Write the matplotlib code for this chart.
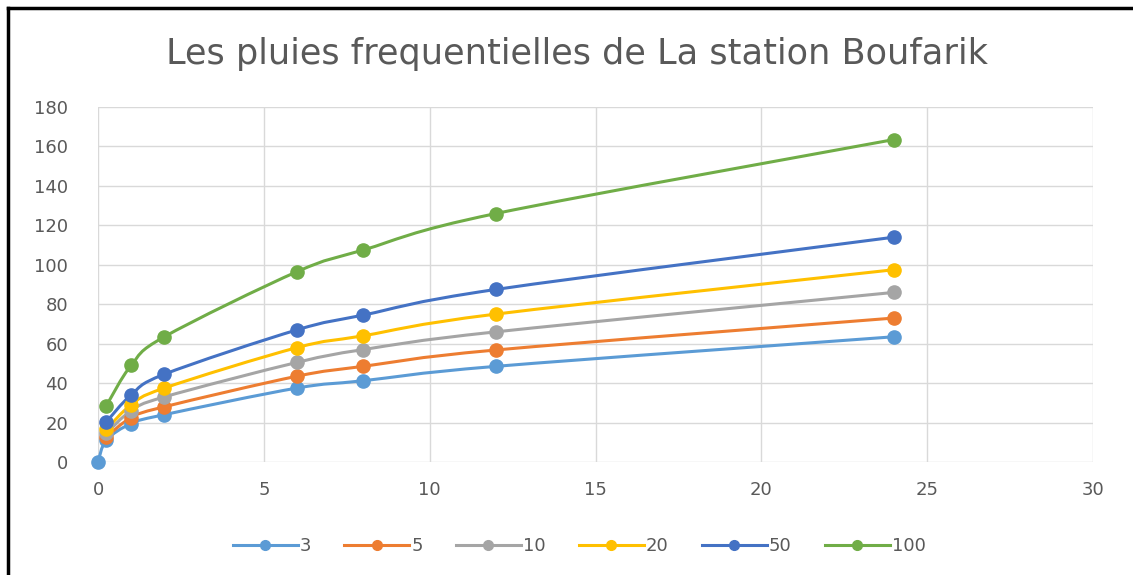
import matplotlib
matplotlib.use("Agg")
import matplotlib.pyplot as plt
from matplotlib.path import Path
from matplotlib.patches import PathPatch
from matplotlib.lines import Line2D
import numpy as np

plt.rcParams['font.family'] = ['DejaVu Sans']

durations = [0.25, 1, 2, 6, 8, 12, 24]
durations_3 = [0, 0.25, 1, 2, 6, 8, 12, 24]
s3 = [0, 11, 19.5, 24, 37.5, 41.2, 48.5, 63.5]
s5 = [12.7, 22.5, 28, 43.5, 48.5, 56.8, 73]
s10 = [14.5, 26, 33, 50.5, 57, 66, 86]
s20 = [16.5, 29, 37.5, 58, 64, 75, 97.5]
s50 = [20.3, 34, 44.5, 67, 74.5, 87.5, 114]
s100 = [28.5, 49, 63.5, 96.5, 107.5, 126, 163.5]
labels = ['3', '5', '10', '20', '50', '100']
colors = ['#5B9BD5', '#ED7D31', '#A5A5A5', '#FFC000', '#4472C4', '#70AD47']
title = 'Les pluies frequentielles de La station Boufarik'

series = [(durations_3, s3), (durations, s5), (durations, s10),
          (durations, s20), (durations, s50), (durations, s100)]

fig = plt.figure(figsize=(11.33, 5.75), dpi=100)
ax = fig.add_axes([98/1133, 1-462/575, 995/1133, 355/575])


def smooth_path(x, y):
    # Excel-like smoothed line: Catmull-Rom converted to cubic Bezier segments
    x = np.asarray(x, float); y = np.asarray(y, float)
    n = len(x)
    verts = [(x[0], y[0])]
    codes = [Path.MOVETO]
    for i in range(n - 1):
        x0, y0 = (x[i-1], y[i-1]) if i > 0 else (x[i], y[i])
        x3, y3 = (x[i+2], y[i+2]) if i + 2 < n else (x[i+1], y[i+1])
        c1 = (x[i] + (x[i+1] - x0) / 6, y[i] + (y[i+1] - y0) / 6)
        c2 = (x[i+1] - (x3 - x[i]) / 6, y[i+1] - (y3 - y[i]) / 6)
        verts += [c1, c2, (x[i+1], y[i+1])]
        codes += [Path.CURVE4] * 3
    return Path(verts, codes)


handles = []
for (xs, ys), lab, c in zip(series, labels, colors):
    ax.add_patch(PathPatch(smooth_path(xs, ys), facecolor='none',
                           edgecolor=c, lw=2.2, zorder=3))
    ax.plot(xs, ys, ls='none', marker='o', ms=9.5, color=c, zorder=4,
            clip_on=False)
    handles.append(Line2D([], [], color=c, lw=2.2, marker='o', ms=7, label=lab))

ax.set_xlim(0, 30)
ax.set_ylim(0, 180)
ax.set_xticks(range(0, 31, 5))
ax.set_yticks(range(0, 181, 20))
ax.grid(True, color='#D9D9D9', lw=1.0, zorder=0)
ax.set_axisbelow(True)
for s in ax.spines.values():
    s.set_visible(False)
ax.tick_params(length=0, labelsize=13, colors='#595959')
ax.tick_params(axis='x', pad=14)
ax.tick_params(axis='y', pad=21.5)

fig.text(577/1133, 1-54/575, title, ha='center', va='center',
         fontsize=25.3, color='#595959')

fig.legend(handles=handles, loc='center', bbox_to_anchor=(579/1133, 1-546/575),
           ncol=6, frameon=False, fontsize=13, labelcolor='#595959',
           handlelength=3.6, handletextpad=0.1, columnspacing=1.85)

# black frame (top and left) of the cropped screenshot
fig.add_artist(Line2D([8/1133, 8/1133], [0, 1-8/575], color='black', lw=2.5,
                      transform=fig.transFigure))
fig.add_artist(Line2D([8/1133, 1], [1-8/575, 1-8/575], color='black', lw=2.5,
                      transform=fig.transFigure))

fig.savefig('out.png', dpi=100)
